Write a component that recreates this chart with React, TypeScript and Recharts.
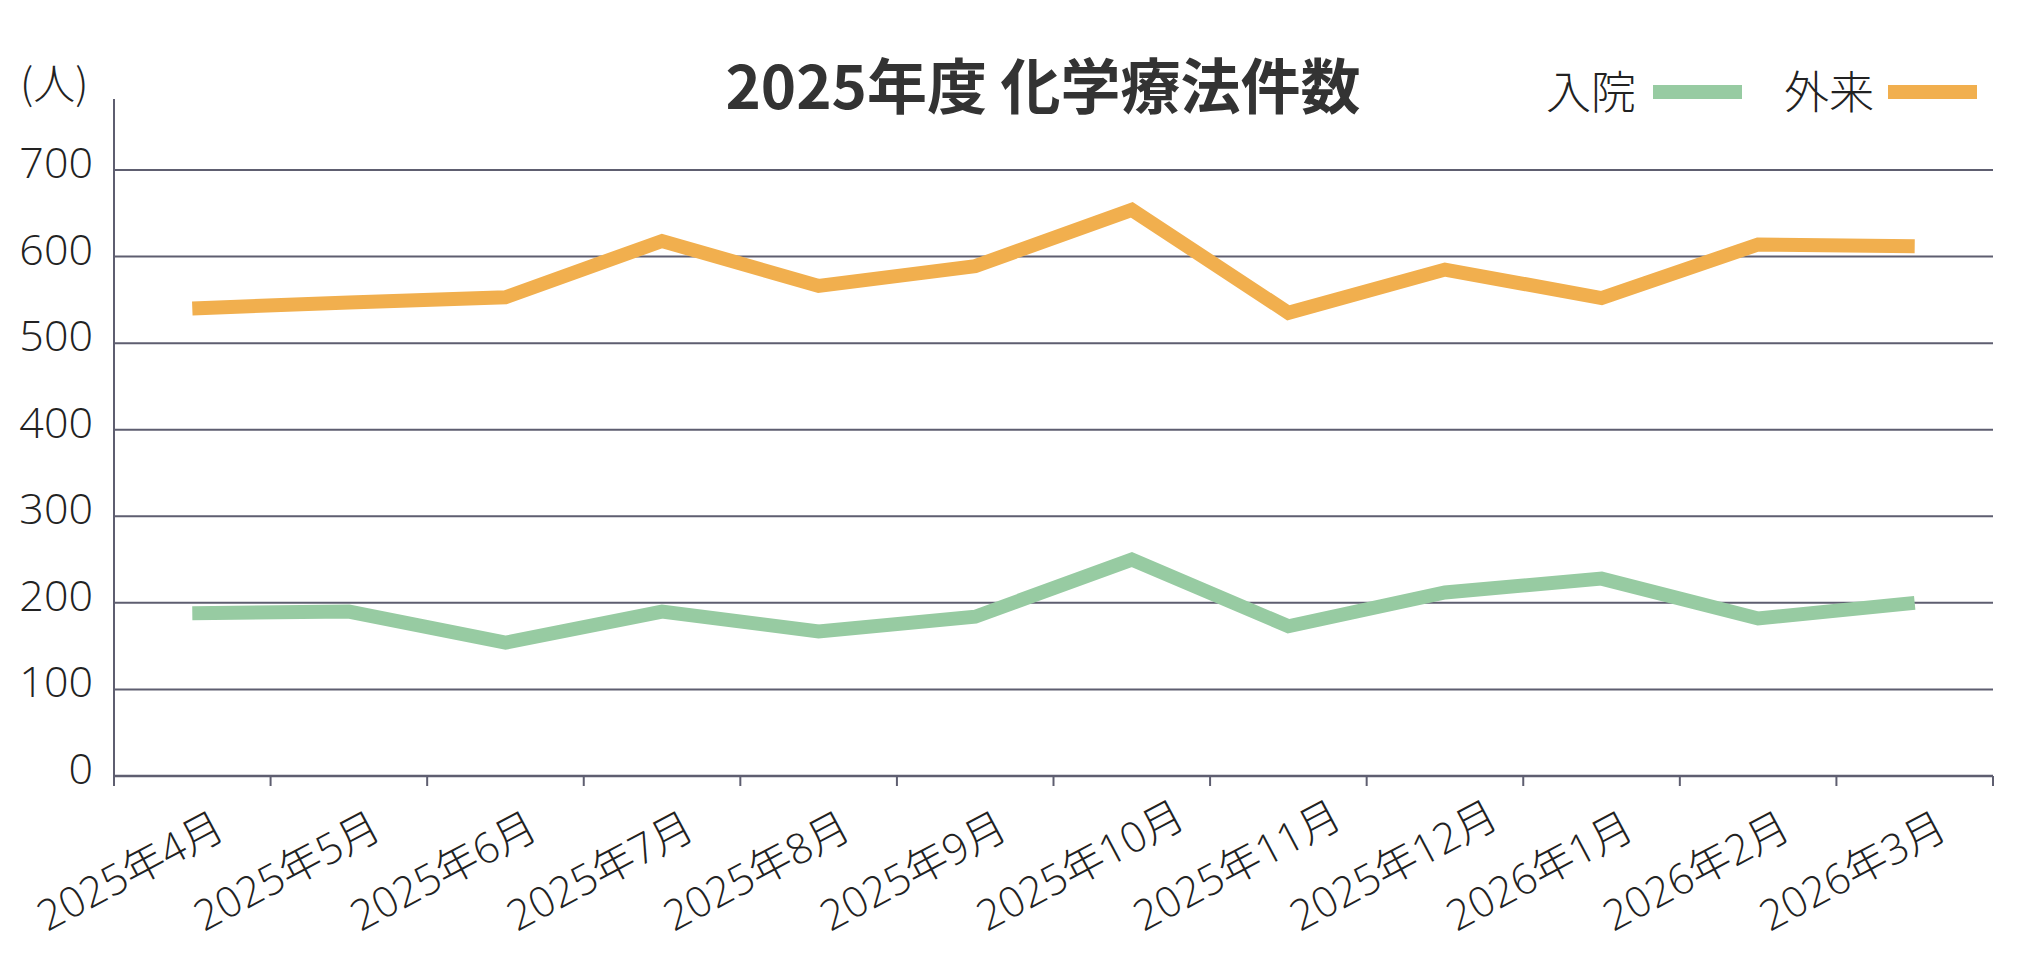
import React from 'react';
import { LineChart, Line, XAxis, YAxis, CartesianGrid, Legend } from 'recharts';

const months = [
  '2025年4月', '2025年5月', '2025年6月', '2025年7月', '2025年8月', '2025年9月',
  '2025年10月', '2025年11月', '2025年12月', '2026年1月', '2026年2月', '2026年3月',
];
const inpatient = [188, 190, 154, 190, 167, 184, 250, 173, 212, 228, 182, 200];
const outpatient = [540, 547, 553, 618, 566, 589, 654, 535, 585, 552, 614, 612];
const yTicks = [0, 100, 200, 300, 400, 500, 600, 700];
const inpatientName = '入院';
const outpatientName = '外来';
const titleText = '2025年度 化学療法件数';
const unitText = '(人)';

const W = 2034;
const H = 974;
const FONT = "'Noto Sans CJK JP', 'Noto Sans CJK SC', sans-serif";
const LIGHT_FONT = "'Open Sans', 'Noto Sans CJK JP', 'Noto Sans CJK SC', sans-serif";
const GREEN = '#97CBA2';
const ORANGE = '#F1AF4E';
const GRID = '#5E5E70';
const TEXT = '#222222';
const MARGIN = { top: 99, right: 41, bottom: 48, left: 0 };
const Y_AXIS_W = 114;
const X_AXIS_H = 150;
const PLOT_W = W - MARGIN.right - MARGIN.left - Y_AXIS_W;
const HALF_BAND = PLOT_W / months.length / 2;

const data = months.map((m, i) => ({
  month: m,
  pos: i + 0.5,
  inpatient: inpatient[i],
  outpatient: outpatient[i],
}));
const boundaryTicks = months.map((_, i) => i).concat(months.length);

const XTick = (props: any) => {
  const { x, y, payload } = props;
  const label = months[payload.value];
  if (!label) return <g />;
  const tx = x + HALF_BAND - 145;
  const ty = y + 144;
  return (
    <text
      x={tx}
      y={ty}
      transform={`rotate(-28, ${tx}, ${ty})`}
      textAnchor="start"
      fontFamily={LIGHT_FONT}
      fontSize={42}
      fontWeight={300}
      fill={TEXT}
    >
      {label}
    </text>
  );
};

const YTick = (props: any) => {
  const { x, y, payload } = props;
  return (
    <text
      x={x}
      y={y + 8}
      textAnchor="end"
      fontFamily={LIGHT_FONT}
      fontSize={43}
      fontWeight={300}
      fill={TEXT}
    >
      {payload.value}
    </text>
  );
};

const LegendContent = () => (
  <div
    style={{
      display: 'flex',
      alignItems: 'center',
      fontFamily: FONT,
      fontSize: 45,
      fontWeight: 300,
      color: TEXT,
      lineHeight: '60px',
      height: 60,
      whiteSpace: 'nowrap',
    }}
  >
    <span>{inpatientName}</span>
    <span style={{ display: 'inline-block', width: 89, height: 14, background: GREEN, marginLeft: 17, position: 'relative', top: 2 }} />
    <span style={{ marginLeft: 42 }}>{outpatientName}</span>
    <span style={{ display: 'inline-block', width: 89, height: 14, background: ORANGE, marginLeft: 14, position: 'relative', top: 2 }} />
  </div>
);

export default function App() {
  return (
    <div style={{ position: 'absolute', left: 0, top: 0, width: W, height: H, background: '#fff' }}>
      <LineChart width={W} height={H} data={data} margin={MARGIN}>
        <CartesianGrid vertical={false} horizontalValues={yTicks} stroke={GRID} strokeWidth={2} />
        <XAxis
          dataKey="pos"
          type="number"
          domain={[0, months.length]}
          ticks={boundaryTicks}
          interval={0}
          height={X_AXIS_H}
          tickSize={10}
          tickMargin={2}
          axisLine={{ stroke: GRID, strokeWidth: 2.5 }}
          tickLine={{ stroke: GRID, strokeWidth: 2 }}
          tick={XTick}
        />
        <YAxis
          type="number"
          domain={[0, 782]}
          ticks={yTicks}
          interval={0}
          width={Y_AXIS_W}
          tickLine={false}
          tickSize={0}
          tickMargin={21}
          axisLine={{ stroke: GRID, strokeWidth: 2 }}
          tick={YTick}
        />
        <Legend
          layout="horizontal"
          verticalAlign="middle"
          align="center"
          content={LegendContent}
          wrapperStyle={{ left: 1546, top: 60, width: 'auto' }}
        />
        <Line
          type="linear"
          dataKey="inpatient"
          name={inpatientName}
          stroke={GREEN}
          strokeWidth={14}
          dot={false}
          activeDot={false}
          isAnimationActive={false}
        />
        <Line
          type="linear"
          dataKey="outpatient"
          name={outpatientName}
          stroke={ORANGE}
          strokeWidth={14}
          dot={false}
          activeDot={false}
          isAnimationActive={false}
        />
      </LineChart>
      <svg
        width={W}
        height={H}
        style={{ position: 'absolute', left: 0, top: 0, pointerEvents: 'none' }}
      >
        <text x={1043} y={109} textAnchor="middle" fontFamily={FONT} fontSize={60} fontWeight={700} fill="#333333">
          {titleText}
        </text>
        <text x={20} y={99} fontFamily={FONT} fontSize={42} fontWeight={300} fill={TEXT}>
          {unitText}
        </text>
      </svg>
    </div>
  );
}
